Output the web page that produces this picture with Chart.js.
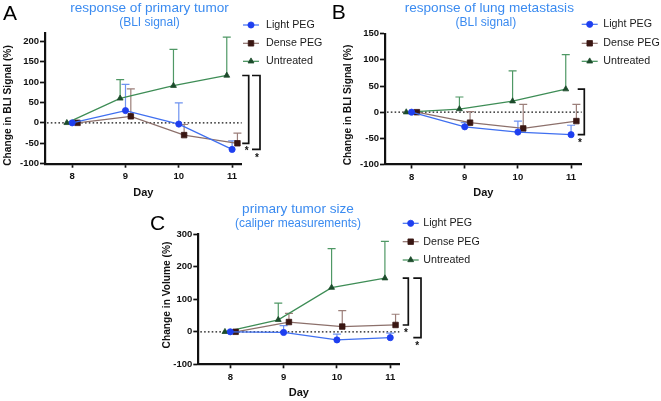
<!DOCTYPE html>
<html><head><meta charset="utf-8">
<script src="https://cdn.jsdelivr.net/npm/chart.js@4.4.1/dist/chart.umd.min.js"></script>
<style>
html,body{margin:0;padding:0;background:#fff;width:661px;height:401px;overflow:hidden;position:relative}
canvas{position:absolute;display:block}
</style></head><body>
<canvas id="cA" width="330" height="200" style="left:0;top:0"></canvas>
<canvas id="cB" width="331" height="200" style="left:330px;top:0"></canvas>
<canvas id="cC" width="360" height="206" style="left:130px;top:195px"></canvas>
<script>
// ---------- data ----------
const days = [8, 9, 10, 11];
const xTickLabels = ['8', '9', '10', '11'];
const seriesNames = ['Light PEG', 'Dense PEG', 'Untreated'];

// Panel A: response of primary tumor (BLI signal), mean and upper error (mean + SD)
const lightA = [0, 30, -3, -65];
const lightAHi = [0, 94, 49, -44];
const denseA = [0, 16, -30, -50];
const denseAHi = [0, 83, -4, -25];
const untrA = [0, 60, 91, 116];
const untrAHi = [0, 106, 180, 210];
const yTicksA = [-100, -50, 0, 50, 100, 150, 200];

// Panel B: response of lung metastasis (BLI signal)
const lightB = [0, -28, -38, -43];
const lightBHi = [0, -20, -17, -25];
const denseB = [0, -20, -31, -17];
const denseBHi = [0, 1, 15, 15];
const untrB = [0, 6, 21, 44];
const untrBHi = [0, 29, 79, 110];
const yTicksB = [-100, -50, 0, 50, 100, 150];

// Panel C: primary tumor size (caliper measurements)
const lightC = [0, -2, -25, -18];
const lightCHi = [0, 19, -7, -4];
const denseC = [0, 30, 16, 21];
const denseCHi = [0, 57, 65, 54];
const untrC = [0, 37, 136, 165];
const untrCHi = [0, 88, 256, 278];
const yTicksC = [-100, 0, 100, 200, 300];

// ---------- styles ----------
const FONT = '"Liberation Sans", Arial, Helvetica, sans-serif';
const STYLE = [
  {line: '#3f6ff0', fill: '#1e3ff0', err: '#6f93f0', point: 'circle', r: 3.1},
  {line: '#8c706b', fill: '#3a1713', err: '#9c7f7a', point: 'rect', r: 3.9},
  {line: '#3e8d56', fill: '#1c4b2b', err: '#4f9865', point: 'triangle', r: 3.4}
];
const DODGE = [0, 0.1, -0.1];
const TITLE_BLUE = '#3b8bf0';

Chart.defaults.font.family = FONT;
Chart.defaults.color = '#111';

function extras(cfg) {
  return {
    id: 'extras',
    beforeDatasetsDraw(chart) {
      const {ctx, chartArea: ca, scales: {x, y}} = chart;
      ctx.save();
      const y0 = y.getPixelForValue(0);
      ctx.strokeStyle = '#111'; ctx.lineWidth = 1.3; ctx.setLineDash([1.6, 2.2]);
      ctx.beginPath(); ctx.moveTo(ca.left + 2, y0); ctx.lineTo(ca.right, y0); ctx.stroke();
      ctx.setLineDash([]);
      cfg.means.forEach((m, i) => {
        const hi = cfg.his[i];
        ctx.strokeStyle = STYLE[i].err; ctx.lineWidth = 1.2;
        days.forEach((d, j) => {
          if (hi[j] <= m[j]) return;
          const px = x.getPixelForValue(d + DODGE[i]);
          const pm = y.getPixelForValue(m[j]), ph = y.getPixelForValue(hi[j]);
          ctx.beginPath();
          ctx.moveTo(px, pm); ctx.lineTo(px, ph);
          ctx.moveTo(px - 4, ph); ctx.lineTo(px + 4, ph);
          ctx.stroke();
        });
      });
      ctx.restore();
    },
    afterDraw(chart) {
      const {ctx, chartArea: ca, scales: {y}} = chart;
      const last = days.length - 1;
      ctx.save();
      // significance brackets
      cfg.brackets.forEach(b => {
        const ya = y.getPixelForValue(cfg.means[b.a][last]);
        const yb = y.getPixelForValue(cfg.means[b.b][last]);
        const xl = ca.right + b.x0, xr = ca.right + b.x1;
        ctx.strokeStyle = '#111'; ctx.lineWidth = 1.7;
        ctx.beginPath();
        ctx.moveTo(xl, ya); ctx.lineTo(xr, ya); ctx.lineTo(xr, yb); ctx.lineTo(xl, yb);
        ctx.stroke();
        ctx.fillStyle = '#111';
        ctx.font = 'bold 10px ' + FONT;
        ctx.textAlign = 'center'; ctx.textBaseline = 'alphabetic';
        ctx.fillText('*', xr + b.sdx, yb + b.sdy + 5.8);
      });
      // legend
      chart.data.datasets.forEach((ds, i) => {
        const ry = cfg.legend.rows[i];
        ctx.strokeStyle = STYLE[i].line; ctx.lineWidth = 1.2;
        ctx.beginPath(); ctx.moveTo(cfg.legend.x0, ry); ctx.lineTo(cfg.legend.x0 + 16, ry); ctx.stroke();
        ctx.fillStyle = STYLE[i].fill; ctx.strokeStyle = STYLE[i].fill; ctx.lineWidth = 0.8;
        Chart.helpers.drawPoint(ctx, {pointStyle: STYLE[i].point, radius: STYLE[i].r, borderWidth: 0.8, rotation: 0}, cfg.legend.x0 + 8, ry);
        ctx.fillStyle = '#1a1a1a';
        ctx.font = '10.7px ' + FONT;
        ctx.textAlign = 'left'; ctx.textBaseline = 'middle';
        ctx.fillText(ds.label, cfg.legend.tx, ry);
      });
      // titles
      ctx.fillStyle = TITLE_BLUE; ctx.textAlign = 'center'; ctx.textBaseline = 'alphabetic';
      ctx.font = '13.6px ' + FONT;
      ctx.fillText(cfg.title.text, cfg.title.x, cfg.title.y);
      ctx.font = '12px ' + FONT;
      ctx.fillText(cfg.sub.text, cfg.sub.x, cfg.sub.y);
      // panel letter
      ctx.fillStyle = '#000'; ctx.textAlign = 'left';
      ctx.font = '21px ' + FONT;
      ctx.fillText(cfg.letter.text, cfg.letter.x, cfg.letter.y);
      // y axis title
      ctx.save();
      ctx.translate(cfg.ytitle.x, cfg.ytitle.y);
      ctx.rotate(-Math.PI / 2);
      ctx.fillStyle = '#111'; ctx.textAlign = 'center'; ctx.textBaseline = 'middle';
      ctx.font = 'bold 10.2px ' + FONT;
      ctx.fillText(cfg.ytitle.text, 0, 0);
      ctx.restore();
      ctx.restore();
    }
  };
}

function makeChart(id, cfg) {
  const datasets = cfg.means.map((m, i) => ({
    label: seriesNames[i],
    data: days.map((d, j) => ({x: d + DODGE[i], y: m[j]})),
    showLine: true,
    borderColor: STYLE[i].line,
    borderWidth: 1.3,
    backgroundColor: STYLE[i].fill,
    pointBackgroundColor: STYLE[i].fill,
    pointBorderColor: STYLE[i].fill,
    pointBorderWidth: 0.8,
    pointStyle: STYLE[i].point,
    pointRadius: STYLE[i].r,
    tension: 0,
    fill: false
  }));
  const tickFont = {family: FONT, size: 9.5, weight: 'bold'};
  return new Chart(document.getElementById(id), {
    type: 'scatter',
    data: {datasets},
    options: {
      responsive: false,
      animation: false,
      events: [],
      devicePixelRatio: 1,
      layout: {padding: {left: 0, top: cfg.area.top, right: cfg.area.padRight, bottom: 0}},
      plugins: {legend: {display: false}, tooltip: {enabled: false}, title: {display: false}},
      scales: {
        x: {
          type: 'linear', bounds: 'data', min: cfg.xmin, max: cfg.xmax,
          afterBuildTicks: s => { s.ticks = days.map(v => ({value: v})); },
          afterFit: s => { s.height = cfg.area.xh; },
          ticks: {callback: v => xTickLabels[days.indexOf(v)], font: tickFont, color: '#111', padding: 3, maxRotation: 0, autoSkip: false},
          grid: {display: true, drawOnChartArea: false, drawTicks: true, tickLength: 4, tickWidth: 1.7, tickColor: '#111', color: '#111'},
          border: {display: true, color: '#111', width: 2.2},
          title: {display: true, text: 'Day', color: '#111', font: {family: FONT, size: 11, weight: 'bold'}, padding: {top: 0, bottom: cfg.dayPad}}
        },
        y: {
          type: 'linear', bounds: 'data', min: cfg.ymin, max: cfg.ymax,
          afterBuildTicks: s => { s.ticks = cfg.yticks.map(v => ({value: v})); },
          afterFit: s => { s.width = cfg.area.yw; },
          ticks: {font: tickFont, color: '#111', padding: 1},
          grid: {display: true, drawOnChartArea: false, drawTicks: true, tickLength: 5, tickWidth: 1.7, tickColor: '#111', color: '#111'},
          border: {display: true, color: '#111', width: 2.2}
        }
      }
    },
    plugins: [extras(cfg)]
  });
}

makeChart('cA', {
  means: [lightA, denseA, untrA], his: [lightAHi, denseAHi, untrAHi],
  yticks: yTicksA, ymin: -100, ymax: 220, xmin: 7.49, xmax: 11.18,
  area: {top: 33, padRight: 88.3, yw: 45, xh: 36.3}, dayPad: 0.8,
  title: {text: 'response of primary tumor', x: 149.5, y: 11.5},
  sub: {text: '(BLI signal)', x: 149.5, y: 26},
  letter: {text: 'A', x: 3, y: 20},
  ytitle: {text: 'Change in BLI Signal (%)', x: 8, y: 105.5},
  legend: {x0: 243, tx: 266, rows: [25, 43.3, 61.3]},
  brackets: [{a: 2, b: 1, x0: 0.5, x1: 7, sdx: -2, sdy: 4.6}, {a: 2, b: 0, x0: 10.3, x1: 18.3, sdx: -3, sdy: 5.5}]
});

makeChart('cB', {
  means: [lightB, denseB, untrB], his: [lightBHi, denseBHi, untrBHi],
  yticks: yTicksB, ymin: -100, ymax: 150, xmin: 7.5, xmax: 11.2,
  area: {top: 33.7, padRight: 79.3, yw: 55, xh: 35.5}, dayPad: 0.8,
  title: {text: 'response of lung metastasis', x: 159.3, y: 11.5},
  sub: {text: '(BLI signal)', x: 155.8, y: 26},
  letter: {text: 'B', x: 1.7, y: 18.5},
  ytitle: {text: 'Change in BLI Signal (%)', x: 18.3, y: 105},
  legend: {x0: 251.7, tx: 273.3, rows: [24.3, 43.3, 61.3]},
  brackets: [{a: 2, b: 0, x0: -4, x1: 2.6, sdx: -4.3, sdy: 5.2}]
});

makeChart('cC', {
  means: [lightC, denseC, untrC], his: [lightCHi, denseCHi, untrCHi],
  yticks: yTicksC, ymin: -100, ymax: 300, xmin: 7.4, xmax: 11.17,
  area: {top: 39.3, padRight: 90.7, yw: 68.3, xh: 36.7}, dayPad: 1.5,
  title: {text: 'primary tumor size', x: 168, y: 18.3},
  sub: {text: '(caliper measurements)', x: 168, y: 32.3},
  letter: {text: 'C', x: 20, y: 34.5},
  ytitle: {text: 'Change in Volume (%)', x: 36.7, y: 100},
  legend: {x0: 272.7, tx: 293.3, rows: [28.3, 46.7, 65]},
  brackets: [{a: 2, b: 1, x0: 3.4, x1: 9, sdx: -2.3, sdy: 4.8}, {a: 2, b: 0, x0: 14, x1: 21.7, sdx: -3.7, sdy: 5.1}]
});
</script>
</body></html>
